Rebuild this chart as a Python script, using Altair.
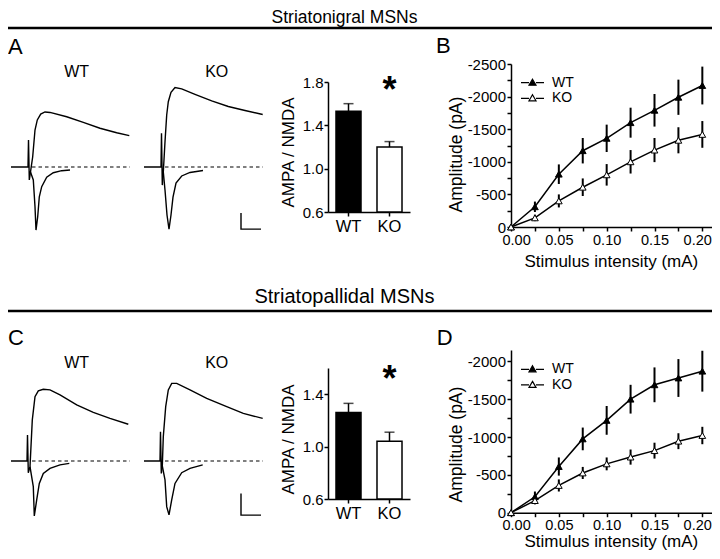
import altair as alt
import pandas as pd

FONT = "Liberation Sans"

# ---------------- data ----------------
genotypes = ["WT", "KO"]

# AMPA / NMDA ratio (panels A and C)
a_ratio = [1.53, 1.20]
a_ratio_err = [0.07, 0.05]
c_ratio = [1.26, 1.04]
c_ratio_err = [0.07, 0.07]
a_y_ticks = [0.6, 1.0, 1.4, 1.8]
c_y_ticks = [0.6, 1.0, 1.4]

# input-output curves (panels B and D), amplitude in pA
intensity = [0.0, 0.025, 0.05, 0.075, 0.1, 0.125, 0.15, 0.175, 0.2]
b_wt = [0, -310, -810, -1170, -1360, -1600, -1790, -1990, -2170]
b_wt_err = [0, 80, 150, 195, 210, 230, 250, 270, 290]
b_ko = [0, -140, -400, -610, -800, -1000, -1180, -1330, -1420]
b_ko_err = [0, 50, 100, 135, 165, 180, 185, 200, 205]
d_wt = [0, -210, -610, -975, -1220, -1500, -1690, -1780, -1870]
d_wt_err = [0, 70, 120, 150, 190, 190, 230, 250, 270]
d_ko = [0, -160, -360, -525, -645, -735, -820, -945, -1020]
d_ko_err = [0, 50, 80, 80, 85, 100, 105, 105, 115]
b_y_ticks = [0, -250, -500, -750, -1000, -1250, -1500, -1750, -2000, -2250, -2500]
d_y_ticks = [0, -250, -500, -750, -1000, -1250, -1500, -1750, -2000]

# example traces: time (ms), current (pA); +40 mV (NMDA) and -70 mV (AMPA)
a_wt_nmda_t = [0, 17, 17.5, 18.3, 19.5, 21.7, 24, 26.3, 29.7, 34, 39, 55.7, 72.3, 89, 105.7, 118.3]
a_wt_nmda_i = [0, 0, 169, -81, -31, 64, 231, 294, 331, 344, 341, 314, 279, 242, 214, 196]
a_wt_ampa_t = [19.5, 22.3, 24, 25, 26.7, 28.3, 30.7, 35.7, 42.3, 50.7, 59]
a_wt_ampa_i = [-31, -81, -248, -394, -311, -186, -123, -64, -36, -23, -19]
a_ko_nmda_t = [0, 17, 17.5, 18.3, 19.3, 21, 22.7, 24.3, 27, 31, 37.7, 51, 67.7, 84.3, 101, 118.7]
a_ko_nmda_i = [0, 0, 211, -113, -31, 158, 325, 408, 467, 497, 488, 454, 413, 378, 353, 328]
a_ko_ampa_t = [19.3, 21, 23, 25, 27, 29, 32, 37.7, 46, 59]
a_ko_ampa_i = [-31, -144, -300, -388, -300, -188, -100, -56, -34, -22]
c_wt_nmda_t = [0, 16, 16.5, 17.3, 19, 21.3, 24, 27.3, 32.3, 39, 49, 65.7, 82.3, 99, 117.3]
c_wt_nmda_i = [0, 0, 120, -54, -26, 189, 296, 323, 330, 327, 304, 258, 224, 196, 169]
c_wt_ampa_t = [19, 22.3, 23.3, 25.7, 28.3, 32.3, 39, 49, 58.3]
c_wt_ampa_i = [-26, -118, -253, -179, -103, -57, -34, -18, -11]
c_ko_nmda_t = [0, 16, 16.5, 17.3, 18.3, 19.3, 21.7, 24.3, 27.7, 32.7, 46, 62.7, 82.7, 99.3, 118.7]
c_ko_nmda_i = [0, 0, 135, -57, -23, 112, 250, 327, 357, 357, 327, 288, 250, 219, 196]
c_ko_ampa_t = [18.3, 21, 22.7, 25, 27.7, 31, 37.7, 46, 58.7]
c_ko_ampa_i = [-23, -87, -210, -248, -179, -103, -54, -34, -18]
baseline_t = [21, 119]
baseline_i = [0, 0]
scalebar_t = [97, 97, 117]          # 20 ms
a_scalebar_i = [-288, -388, -388]   # 100 pA
c_scalebar_i = [-149, -249, -249]   # 100 pA

# ---------------- layout ----------------
W, H = 704, 543


def px(x):  # page x -> chart x
    return x - 8


def py(y):  # page y -> chart y
    return y - 8


BLACK = "black"


def seg_chart(t, i):
    return alt.Chart(pd.DataFrame({"t": t, "i": i, "k": list(range(len(t)))}))


def trace_panel(nt, ni, at, ai, x_left, base_y, pa_per_px, y_dom, bar_i=None):
    xs = alt.Scale(domain=[0, 120], range=[px(x_left), px(x_left + 120)], nice=False, zero=False)
    ys = alt.Scale(domain=y_dom,
                   range=[py(base_y - y_dom[0] / pa_per_px), py(base_y - y_dom[1] / pa_per_px)],
                   nice=False, zero=False)
    X = alt.X("t:Q", scale=xs, axis=None)
    Y = alt.Y("i:Q", scale=ys, axis=None)
    out = [
        seg_chart(baseline_t, baseline_i).mark_line(color=BLACK, strokeWidth=1.2, strokeDash=[3.5, 3])
        .encode(x=X, y=Y, order="k:Q"),
        seg_chart(nt, ni).mark_line(color=BLACK, strokeWidth=1.4).encode(x=X, y=Y, order="k:Q"),
        seg_chart(at, ai).mark_line(color=BLACK, strokeWidth=1.4).encode(x=X, y=Y, order="k:Q"),
    ]
    if bar_i is not None:
        out.append(seg_chart(scalebar_t, bar_i).mark_line(color=BLACK, strokeWidth=1.4)
                   .encode(x=X, y=Y, order="k:Q"))
    return out


def bar_panel(vals, errs, y_dom, y_ticks, bottom_page, top_page, title_y_page, star_y_page):
    df = pd.DataFrame({"g": genotypes, "v": vals, "e": errs})
    base = alt.Chart(df).transform_calculate(hi="datum.v + datum.e")
    xs = alt.Scale(domain=genotypes, range=[px(328), px(410)], paddingInner=0.39, paddingOuter=0.195)
    ys = alt.Scale(domain=y_dom, range=[py(bottom_page), py(top_page)], nice=False, zero=False)
    x_axis = alt.Axis(orient="bottom", offset=py(bottom_page) - H, title=None, labelAngle=0,
                      labelFontSize=16.5, tickSize=4, labelPadding=2.5, domainWidth=1.5, tickWidth=1.5)
    y_axis = alt.Axis(orient="left", offset=-px(328), values=y_ticks, format=".1f", labelFontSize=15,
                      tickSize=4, labelPadding=1, labelOverlap=False, title="AMPA / NMDA",
                      titleFontSize=17, titleX=288.7 - 328, titleY=py(title_y_page), titleAngle=270,
                      titleBaseline="middle", titleAlign="center", domainWidth=1.5, tickWidth=1.5)
    bars = base.mark_bar(stroke=BLACK, strokeWidth=1.5).encode(
        x=alt.X("g:N", scale=xs, axis=x_axis),
        y=alt.Y("v:Q", scale=ys, axis=y_axis),
        y2=alt.datum(y_dom[0]),
        fill=alt.Fill("g:N", scale=alt.Scale(domain=genotypes, range=[BLACK, "white"]), legend=None),
    )
    err = base.mark_rule(color=BLACK, strokeWidth=1.5).encode(
        x=alt.X("g:N", scale=xs, axis=None),
        y=alt.Y("v:Q", scale=ys, axis=None),
        y2="hi:Q",
    )
    cap = base.mark_tick(color=BLACK, thickness=1.5, size=10, orient="horizontal").encode(
        x=alt.X("g:N", scale=xs, axis=None),
        y=alt.Y("hi:Q", scale=ys, axis=None),
    )
    star = alt.Chart(pd.DataFrame({"g": ["KO"], "s": ["*"]})).mark_text(
        font=FONT, fontSize=36, fontWeight="bold", color=BLACK, baseline="alphabetic"
    ).encode(x=alt.X("g:N", scale=xs, axis=None), y=alt.value(py(star_y_page)), text="s:N")
    return [bars, err, cap, star]


LEGEND_PATH = "M-2.3,0L-0.7,0M0.7,0L2.3,0M0,-0.7L0.7,0.5L-0.7,0.5Z"


def line_panel(wt, wt_err, ko, ko_err, y_ticks, y_top, axis_page, top_page, ytitle_page,
               xtitle_dy, legend_y):
    n = len(intensity)
    df = pd.DataFrame({
        "s": intensity + intensity,
        "amp": wt + ko,
        "err": wt_err + ko_err,
        "g": ["WT"] * n + ["KO"] * n,
    })
    base = alt.Chart(df).transform_calculate(lo="datum.amp - datum.err", hi="datum.amp + datum.err")
    xs = alt.Scale(domain=[0, 0.21], range=[px(511), px(711.9)], nice=False, zero=False)
    ys = alt.Scale(domain=[0, y_top], range=[py(axis_page), py(top_page)], nice=False, zero=False)
    major_x = "round(datum.value * 1000) % 50 == 0"
    x_axis = alt.Axis(orient="bottom", offset=py(axis_page) - H, values=intensity,
                      labelExpr=f"{major_x} ? format(datum.value, '.2f') : ''",
                      tickSize=4, labelPadding=2, labelFontSize=14.5, labelFlush=12,
                      labelFlushOffset=9, labelOverlap=False, title="Stimulus intensity (mA)",
                      titleFontSize=17, titleX=px(610.8), titleY=xtitle_dy, titleBaseline="middle",
                      titleAlign="center", domainWidth=1.5, tickWidth=1.5)
    y_axis = alt.Axis(orient="left", offset=-px(511), values=y_ticks,
                      labelExpr="datum.value % 500 != 0 ? '' : (datum.value == 0 ? '0' : '-' + abs(datum.value))",
                      tickSize=4, labelPadding=1.5, labelFontSize=15, labelOverlap=False,
                      title="Amplitude (pA)", titleFontSize=17.5, titleX=456.5 - 511,
                      titleY=py(ytitle_page), titleAngle=270, titleBaseline="middle",
                      titleAlign="center", domainWidth=1.5, tickWidth=1.5)
    line = base.mark_line(color=BLACK, strokeWidth=1.5).encode(
        x=alt.X("s:Q", scale=xs, axis=x_axis),
        y=alt.Y("amp:Q", scale=ys, axis=y_axis),
        detail="g:N",
    )
    err = base.mark_rule(color=BLACK, strokeWidth=2).encode(
        x=alt.X("s:Q", scale=xs, axis=None),
        y=alt.Y("lo:Q", scale=ys, axis=None),
        y2="hi:Q",
    )
    pts = base.mark_point(shape="triangle-up", filled=True, size=45, stroke=BLACK, strokeWidth=1,
                          opacity=1).encode(
        x=alt.X("s:Q", scale=xs, axis=None),
        y=alt.Y("amp:Q", scale=ys, axis=None),
        fill=alt.Fill("g:N", scale=alt.Scale(domain=genotypes, range=[BLACK, "white"]),
                      legend=alt.Legend(title=None, orient="none", legendX=517.5, legendY=legend_y,
                                        symbolType=LEGEND_PATH, symbolSize=100,
                                        symbolStrokeColor=BLACK, symbolStrokeWidth=1.2,
                                        labelFontSize=14, labelFont=FONT, labelOffset=12.5,
                                        rowPadding=1.6, padding=0, direction="vertical")),
    )
    return [line, err, pts]


def text_mark(text, x, y, size, align="left", weight="normal"):
    return alt.Chart(pd.DataFrame({"s": [text]})).mark_text(
        font=FONT, fontSize=size, fontWeight=weight, align=align, baseline="alphabetic", color=BLACK
    ).encode(x=alt.value(x), y=alt.value(y), text="s:N")


def hrule(y):
    return alt.Chart(pd.DataFrame({"s": [0]})).mark_rule(color=BLACK, strokeWidth=2.4).encode(
        x=alt.value(0), x2=alt.value(W), y=alt.value(y)
    )


layers = [
    # headers
    text_mark("Striatonigral MSNs", px(344.5), py(23), 17.5, align="center"),
    hrule(py(28)),
    text_mark("Striatopallidal MSNs", px(344.5), py(303.3), 20, align="center"),
    hrule(py(311)),
    # panel letters
    text_mark("A", px(8), py(54.3), 22),
    text_mark("B", px(436), py(53.3), 22),
    text_mark("C", px(8), py(345), 22),
    text_mark("D", px(436.7), py(345), 22),
    # trace labels
    text_mark("WT", px(76.7), py(77), 16, align="center"),
    text_mark("KO", px(216.7), py(77), 16, align="center"),
    text_mark("WT", px(76.7), py(367.5), 16, align="center"),
    text_mark("KO", px(216.7), py(367.5), 16, align="center"),
]
layers += trace_panel(a_wt_nmda_t, a_wt_nmda_i, a_wt_ampa_t, a_wt_ampa_i, 11, 167, 6.25, [-400, 550])
layers += trace_panel(a_ko_nmda_t, a_ko_nmda_i, a_ko_ampa_t, a_ko_ampa_i, 144, 167, 6.25, [-400, 550],
                      bar_i=a_scalebar_i)
layers += trace_panel(c_wt_nmda_t, c_wt_nmda_i, c_wt_ampa_t, c_wt_ampa_i, 11, 461, 4.6, [-260, 360])
layers += trace_panel(c_ko_nmda_t, c_ko_nmda_i, c_ko_ampa_t, c_ko_ampa_i, 144, 461, 4.6, [-260, 360],
                      bar_i=c_scalebar_i)
layers += bar_panel(a_ratio, a_ratio_err, [0.6, 1.8], a_y_ticks, 212, 82, 152, 102)
layers += bar_panel(c_ratio, c_ratio_err, [0.6, 1.6], c_y_ticks, 499, 368, 439, 391.2)
layers += line_panel(b_wt, b_wt_err, b_ko, b_ko_err, b_y_ticks, -2500, 227, 64, 154, 34, 67.7)
layers += line_panel(d_wt, d_wt_err, d_ko, d_ko_err, d_y_ticks, -2150, 512.7, 350, 444, 29, 354.3)

chart = (
    alt.layer(*layers)
    .resolve_scale(x="independent", y="independent", fill="independent")
    .resolve_axis(x="independent", y="independent")
    .resolve_legend(fill="independent")
    .properties(width=W, height=H, autosize=alt.AutoSizeParams(type="none"), padding=0)
    .configure_view(stroke=None)
    .configure_axis(labelFont=FONT, titleFont=FONT, labelColor=BLACK, titleColor=BLACK,
                    domainColor=BLACK, tickColor=BLACK, grid=False, titleFontWeight="normal")
)

chart.save("out.html", embed_options={"renderer": "svg", "actions": False})
